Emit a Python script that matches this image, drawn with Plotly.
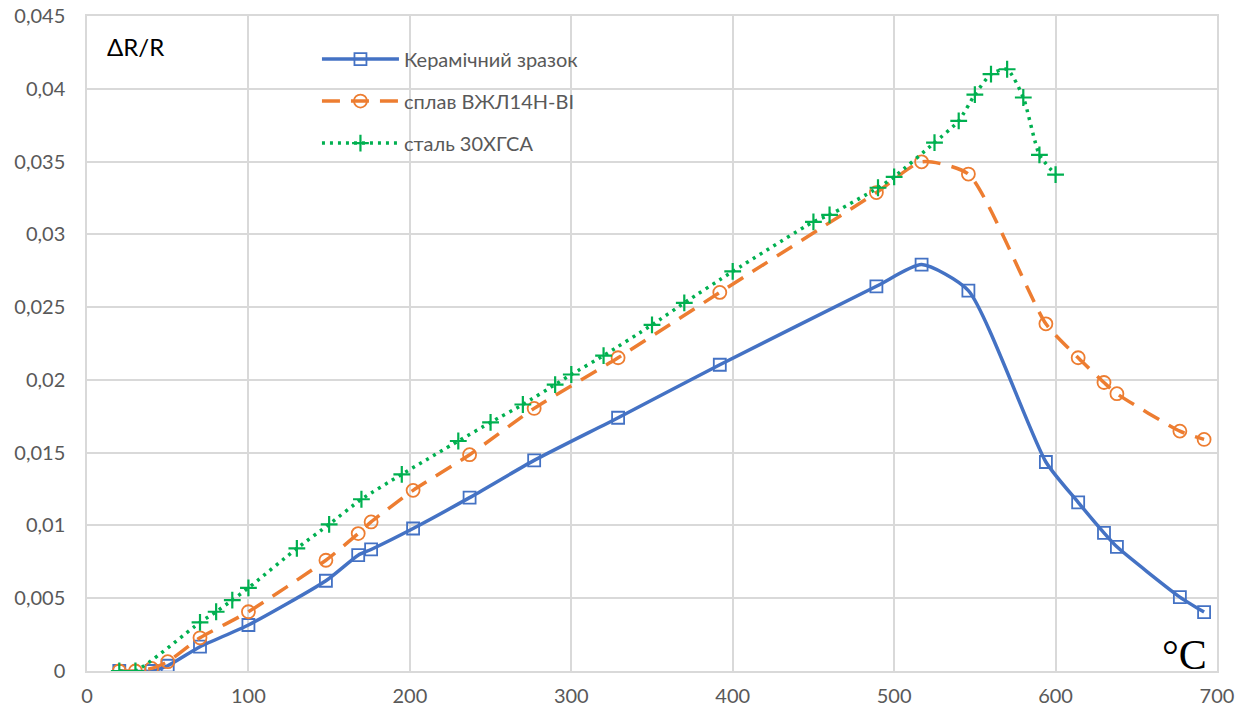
import plotly.graph_objects as go

# Керамічний зразок
x_ceramic = [20, 40, 50, 70, 100, 148, 168, 176, 202, 237, 277, 329, 392, 489, 517, 546, 594, 614, 630, 638, 677, 692]
y_ceramic = [0, 0, 0.00036, 0.00167, 0.00316, 0.0062, 0.00796, 0.00835, 0.00979, 0.01191, 0.01447, 0.0174,
             0.02104, 0.02643, 0.02792, 0.02613, 0.01436, 0.01159, 0.00949, 0.00853, 0.00508, 0.00405]

# сплав ВЖЛ14Н-ВІ
x_alloy = [20, 30, 40, 50, 70, 100, 148, 168, 176, 202, 237, 277, 329, 392, 489, 517, 546, 594, 614, 630, 638, 677, 692]
y_alloy = [0, 0, 0.00018, 0.00064, 0.00228, 0.00407, 0.00761, 0.00944, 0.01024, 0.01241, 0.01486, 0.01804,
           0.02152, 0.02601, 0.03287, 0.03498, 0.03414, 0.02385, 0.02152, 0.01982, 0.01905, 0.01648, 0.01591]

# сталь 30ХГСА
x_steel = [20, 30, 70, 80, 90, 100, 130, 150, 170, 195, 230, 250, 270, 290, 300, 320, 350, 370, 400, 450, 460,
           490, 500, 525, 540, 550, 560, 570, 580, 590, 600]
y_steel = [0, 0, 0.00334, 0.00407, 0.00487, 0.00571, 0.00842, 0.01008, 0.0118, 0.01351, 0.0158, 0.01708, 0.01831,
           0.01968, 0.02037, 0.02167, 0.02378, 0.02529, 0.02745, 0.03086, 0.03134, 0.0332, 0.03395, 0.0363, 0.0378,
           0.0396, 0.041, 0.04134, 0.0394, 0.03546, 0.0341]

y_tickvals = [0, 0.005, 0.01, 0.015, 0.02, 0.025, 0.03, 0.035, 0.04, 0.045]
y_ticktext = ["0", "0,005", "0,01", "0,015", "0,02", "0,025", "0,03", "0,035", "0,04", "0,045"]
x_tickvals = [0, 100, 200, 300, 400, 500, 600, 700]

fig = go.Figure()
fig.add_trace(go.Scatter(
    x=x_ceramic, y=y_ceramic, name="Керамічний зразок", mode="lines+markers", legendgroup="a",
    line=dict(color="#4472C4", width=3.5, shape="spline", smoothing=0.6),
    marker=dict(symbol="square-open", size=12, color="#4472C4", line=dict(width=1.8, color="#4472C4")),
))
fig.add_trace(go.Scatter(
    x=x_alloy, y=y_alloy, name="сплав ВЖЛ14Н-ВІ", mode="lines+markers", legendgroup="b",
    line=dict(color="#ED7D31", width=3.5, shape="spline", smoothing=0.6, dash="18px,11px"),
    marker=dict(symbol="circle-open", size=13, color="#ED7D31", line=dict(width=1.8, color="#ED7D31")),
))
fig.add_trace(go.Scatter(
    x=x_steel, y=y_steel, name="сталь 30ХГСА", mode="lines+markers", legendgroup="c",
    line=dict(color="#00B050", width=3.5, shape="spline", smoothing=0.6, dash="3px,5px"),
    marker=dict(symbol="cross-thin", size=12, color="#00B050", line=dict(width=2.2, color="#00B050")),
))

fig.update_layout(
    width=1247, height=717,
    margin=dict(l=87, r=30, t=16, b=46),
    paper_bgcolor="white", plot_bgcolor="white",
    font=dict(family="Lato, Open Sans, sans-serif", size=20, color="#595959"),
    showlegend=True,
    legend=dict(x=0.2035, y=0.964, xanchor="left", yanchor="top", bgcolor="rgba(0,0,0,0)",
                font=dict(size=20, color="#595959"), tracegroupgap=13, itemwidth=77),
    xaxis=dict(range=[0, 700], tickvals=x_tickvals, showgrid=True, gridcolor="#D9D9D9", gridwidth=1.5,
               showline=True, linecolor="#D9D9D9", linewidth=1.5, mirror=True, zeroline=False,
               automargin=False, ticks="outside", ticklen=6, tickcolor="rgba(0,0,0,0)",
               tickfont=dict(size=20, color="#595959")),
    yaxis=dict(range=[0, 0.045], tickvals=y_tickvals, ticktext=y_ticktext, showgrid=True,
               gridcolor="#D9D9D9", gridwidth=1.5, showline=True, linecolor="#D9D9D9", linewidth=1.5,
               mirror=True, zeroline=False, automargin=False, ticks="outside", ticklen=16,
               tickcolor="rgba(0,0,0,0)", tickfont=dict(size=20, color="#595959"),
               ticklabeloverflow="allow"),
    annotations=[
        dict(text="ΔR/R", xref="paper", yref="paper", x=0.016, y=0.953, xanchor="left", yanchor="middle",
             showarrow=False, font=dict(size=24, color="black", family="Lato, Open Sans, sans-serif")),
        dict(text="°C", xref="paper", yref="paper", x=0.993, y=-0.014, xanchor="right", yanchor="bottom",
             showarrow=False, font=dict(size=42, color="black", family="Liberation Serif, DejaVu Serif, serif")),
    ],
)

fig.write_html("out.html", config={"displayModeBar": False},
               post_script="document.body.style.margin='0';document.body.style.overflow='hidden';")
